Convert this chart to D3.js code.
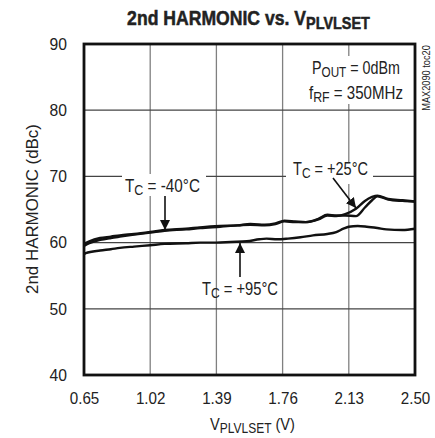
<!DOCTYPE html>
<html>
<head>
<meta charset="utf-8">
<script src="https://cdn.jsdelivr.net/npm/d3@7"></script>
<style>
  body { margin: 0; background: #fff; }
  svg text { font-family: "Liberation Sans", Arial, sans-serif; fill: #222; }
</style>
</head>
<body>
<div id="chart"></div>
<script>
// tick labels
const xTicks = [0.65, 1.02, 1.39, 1.76, 2.13, 2.50];
const yTicks = [40, 50, 60, 70, 80, 90];

// Tc = -40C
const voltsM40 = [0.65, 0.68, 0.74, 0.80, 0.85, 0.93, 1.02, 1.10, 1.22, 1.30, 1.41, 1.51, 1.58, 1.66, 1.72, 1.77, 1.83, 1.89, 1.96, 2.01, 2.06, 2.11, 2.17, 2.22, 2.26, 2.29, 2.35, 2.43, 2.50];
const harmM40  = [59.8, 60.2, 60.7, 60.9, 61.1, 61.3, 61.6, 61.9, 62.1, 62.3, 62.5, 62.6, 62.8, 62.7, 62.9, 63.3, 63.2, 63.1, 63.6, 64.2, 64.1, 64.1, 64.0, 65.3, 66.4, 67.0, 66.5, 66.3, 66.2];

// Tc = +25C
const volts25 = [0.65, 0.68, 0.74, 0.80, 0.85, 0.93, 1.02, 1.10, 1.22, 1.30, 1.41, 1.51, 1.58, 1.66, 1.72, 1.77, 1.83, 1.89, 1.96, 2.01, 2.06, 2.11, 2.17, 2.22, 2.26, 2.29, 2.35, 2.43, 2.50];
const harm25  = [59.5, 59.9, 60.4, 60.7, 60.9, 61.2, 61.5, 61.8, 62.0, 62.2, 62.4, 62.6, 62.7, 62.6, 62.8, 63.2, 63.1, 63.1, 63.5, 64.1, 64.0, 64.3, 65.1, 66.3, 66.9, 67.1, 66.6, 66.4, 66.2];

// Tc = +95C
const volts95 = [0.65, 0.66, 0.74, 0.80, 0.85, 0.93, 1.02, 1.10, 1.22, 1.30, 1.39, 1.47, 1.56, 1.63, 1.67, 1.73, 1.79, 1.86, 1.93, 2.01, 2.06, 2.10, 2.13, 2.18, 2.23, 2.29, 2.34, 2.43, 2.50];
const harm95  = [58.2, 58.4, 58.8, 59.0, 59.2, 59.4, 59.6, 59.8, 59.9, 60.0, 60.0, 60.1, 60.2, 60.5, 60.6, 60.5, 60.6, 60.8, 61.1, 61.3, 61.6, 62.1, 62.4, 62.5, 62.4, 62.2, 62.0, 61.9, 62.1];

function drawChart() {
    const W = 435, H = 438;
    const margin = { top: 44, right: 20, bottom: 63, left: 84 };
    const width = W - margin.left - margin.right;
    const height = H - margin.top - margin.bottom;

    const root = d3.select("#chart").append("svg")
        .attr("width", W).attr("height", H);
    const svg = root.append("g")
        .attr("transform", `translate(${margin.left},${margin.top})`);

    const x = d3.scaleLinear().domain([0.65, 2.50]).range([0, width]);
    const y = d3.scaleLinear().domain([40, 90]).range([height, 0]);

    // grid
    svg.append("g").selectAll("line").data(xTicks.slice(1, -1)).enter().append("line")
        .attr("x1", d => x(d)).attr("x2", d => x(d))
        .attr("y1", 0).attr("y2", height)
        .attr("stroke", "#808080").attr("stroke-width", 1.3);
    svg.append("g").selectAll("line").data(yTicks.slice(1, -1)).enter().append("line")
        .attr("y1", d => y(d)).attr("y2", d => y(d))
        .attr("x1", 0).attr("x2", width)
        .attr("stroke", "#444").attr("stroke-width", 1.3);

    // axes (labels only)
    const xAxis = svg.append("g")
        .attr("transform", `translate(0,${height})`)
        .call(d3.axisBottom(x).tickValues(xTicks).tickFormat(d3.format(".2f")).tickSize(0).tickPadding(17));
    const yAxis = svg.append("g")
        .call(d3.axisLeft(y).tickValues(yTicks).tickSize(0).tickPadding(17));
    [xAxis, yAxis].forEach(a => {
        a.select(".domain").remove();
        a.selectAll("text").attr("font-size", 16.5)
            .style("font-family", '"Liberation Sans", Arial, sans-serif')
            .attr("fill", "#222");
    });
    // condense tick labels a bit
    xAxis.selectAll("text").attr("transform", "scale(0.92,1)")
        .attr("x", 0);
    yAxis.selectAll("text").attr("transform", "translate(-17,0) scale(0.95,1)").attr("x", 0);

    // white patches behind labels (they break the grid lines)
    const bg = [[122, 174, 84, 22], [286, 162, 87, 22], [305, 56, 102, 48]];
    root.selectAll("rect.bg").data(bg).enter().append("rect")
        .attr("class", "bg")
        .attr("x", d => d[0]).attr("y", d => d[1]).attr("width", d => d[2]).attr("height", d => d[3])
        .attr("fill", "#fff");

    // curves
    const line = d3.line().x(d => x(d[0])).y(d => y(d[1])).curve(d3.curveMonotoneX);
    const series = [
        d3.zip(voltsM40, harmM40),
        d3.zip(volts25, harm25),
        d3.zip(volts95, harm95)
    ];
    svg.selectAll("path.curve").data(series).enter().append("path")
        .attr("class", "curve")
        .attr("d", line)
        .attr("fill", "none").attr("stroke", "#111").attr("stroke-width", 2.4)
        .attr("stroke-linejoin", "round");

    // frame
    svg.append("rect").attr("width", width).attr("height", height)
        .attr("fill", "none").attr("stroke", "#111").attr("stroke-width", 2.8);

    // arrows
    const defs = root.append("defs");
    defs.append("marker").attr("id", "arr")
        .attr("viewBox", "0 0 10 10").attr("refX", 10).attr("refY", 5)
        .attr("markerWidth", 10).attr("markerHeight", 11)
        .attr("markerUnits", "userSpaceOnUse")
        .attr("orient", "auto")
        .append("path").attr("d", "M0,0 L10,5 L0,10 Z").attr("fill", "#111");
    const arrows = [
        [165, 196, 165, 230],
        [333, 178, 356, 208],
        [240, 277, 240, 243]
    ];
    root.selectAll("line.arr").data(arrows).enter().append("line")
        .attr("x1", d => d[0]).attr("y1", d => d[1]).attr("x2", d => d[2]).attr("y2", d => d[3])
        .attr("stroke", "#111").attr("stroke-width", 1.6)
        .attr("marker-end", "url(#arr)");

    // text with subscript, squeezed to a target width
    function subText(px, py, main, sub, rest, size, anchor, target, weight, rot) {
        const t = root.append("text").attr("x", 0).attr("y", 0)
            .attr("font-size", size).attr("text-anchor", anchor || "start")
            .attr("font-weight", weight || "normal");
        t.append("tspan").text(main);
        if (sub) {
            t.append("tspan").attr("dy", size * 0.18).attr("font-size", size * 0.82).text(sub);
            t.append("tspan").attr("dy", -size * 0.18).text(rest);
        }
        const s = target / t.node().getBBox().width;
        t.attr("transform", `translate(${px},${py})` + (rot ? ` rotate(${rot})` : "") + ` scale(${s},1)`);
        return t;
    }

    subText(248.5, 25, "2nd HARMONIC vs. V", "PLVLSET", "", 20, "middle", 243, "bold")
        .attr("stroke", "#222").attr("stroke-width", 0.5);
    subText(312, 74, "P", "OUT", " = 0dBm", 17.5, "start", 88);
    subText(309, 99, "f", "RF", " = 350MHz", 17.5, "start", 94);
    subText(125, 192, "T", "C", " = -40°C", 17.5, "start", 75);
    subText(293, 175, "T", "C", " = +25°C", 17.5, "start", 75);
    subText(202, 295, "T", "C", " = +95°C", 17.5, "start", 76);
    subText(252.5, 430, "V", "PLVLSET", " (V)", 17, "middle", 85);

    subText(38, 209, "2nd HARMONIC (dBc)", null, null, 16.5, "middle", 170, "normal", -90);
    subText(430, 78, "MAX2090 toc20", null, null, 10, "middle", 66, "normal", -90);
}

document.addEventListener("DOMContentLoaded", drawChart);
</script>
</body>
</html>
